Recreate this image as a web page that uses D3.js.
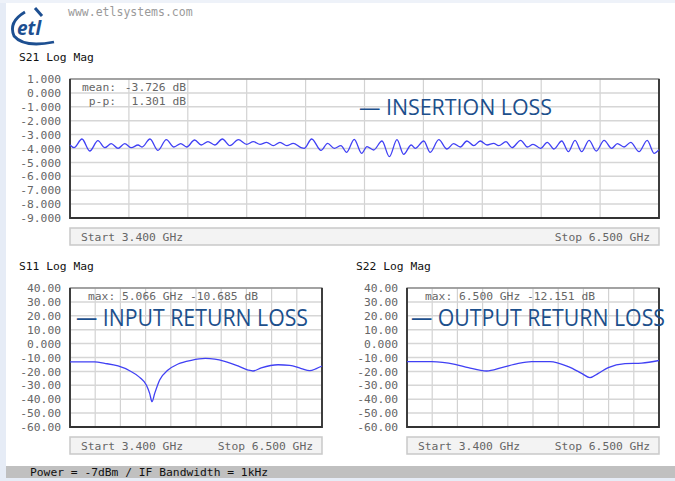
<!DOCTYPE html>
<html><head><meta charset="utf-8">
<script src="https://cdn.jsdelivr.net/npm/d3@7"></script>
<style>
html,body{margin:0;padding:0;background:#fff;}
svg{display:block;}
.mono{font-family:"DejaVu Sans Mono",monospace;}
</style></head>
<body>
<svg id="c" width="675" height="481"></svg>
<script>
// ---------- DATA ----------
const freqStart = 3.4, freqStop = 6.5;
// S21 insertion loss (GHz, dB)
const s21Freq = [3.400,3.421,3.463,3.504,3.547,3.583,3.617,3.653,3.688,3.723,3.758,3.779,3.821,3.863,3.907,3.947,3.983,4.014,4.056,4.091,4.126,4.162,
  4.202,4.242,4.286,4.330,4.365,4.400,4.435,4.470,4.505,4.541,4.575,4.616,4.633,4.672,4.721,4.756,4.791,4.826,4.856,4.896,4.935,
  4.963,4.998,5.042,5.081,5.121,5.156,5.196,5.217,5.262,5.296,5.341,5.384,5.419,5.454,5.489,5.525,5.559,5.595,5.630,5.656,5.695,5.726,
  5.772,5.807,5.837,5.877,5.912,5.947,5.988,6.023,6.058,6.093,6.132,6.170,6.211,6.251,6.281,6.316,6.351,6.395,6.438,6.474,6.500];
const s21dB = [-3.748,-3.940,-3.316,-4.180,-3.436,-3.940,-3.652,-3.988,-3.652,-3.940,-3.748,-3.892,-3.316,-4.132,-3.364,-3.892,-3.652,-3.892,-3.388,-3.748,-3.508,-3.748,
  -3.316,-3.796,-3.364,-3.700,-3.508,-3.700,-3.556,-3.796,-3.556,-3.796,-3.628,-3.940,-3.988,-3.316,-4.132,-3.628,-3.988,-3.796,-4.276,-3.340,-4.347,
  -3.868,-4.108,-3.460,-4.587,-3.364,-4.419,-3.748,-3.988,-3.460,-4.276,-3.364,-4.036,-3.652,-3.892,-3.460,-3.796,-3.460,-3.748,-3.628,-3.796,-3.508,-3.940,
  -3.412,-3.892,-3.700,-3.988,-3.556,-4.036,-3.460,-4.228,-3.412,-4.228,-3.412,-4.180,-3.412,-3.988,-3.652,-3.892,-3.556,-4.228,-3.412,-4.347,-4.080];
// S11 input return loss
const s11Freq = [3.400,3.704,3.827,3.991,4.134,4.257,4.339,4.380,4.409,4.442,4.503,4.606,4.729,4.892,5.066,5.180,5.303,5.467,5.590,5.651,5.753,5.959,6.103,6.245,6.349,6.430,6.500];
const s11dB = [-13.2,-13.2,-14.2,-16.1,-19.5,-24.3,-29.8,-35.8,-41.8,-35.8,-26.2,-19.0,-14.7,-12.0,-10.7,-11.2,-12.8,-16.1,-19.0,-19.7,-17.5,-15.2,-15.6,-18.0,-19.5,-18.0,-16.1];
// S22 output return loss
const s22Freq = [3.400,3.704,3.990,4.154,4.380,4.565,4.769,4.934,5.159,5.384,5.549,5.651,5.753,5.876,6.082,6.287,6.500];
const s22dB = [-13.0,-13.0,-14.9,-17.3,-19.7,-17.3,-14.2,-13.0,-13.0,-16.6,-21.4,-24.5,-21.4,-17.3,-14.4,-14.0,-12.15];

const s21Ticks = [1,0,-1,-2,-3,-4,-5,-6,-7,-8,-9];
const s21TickLabels = ["1.000","0.000","-1.000","-2.000","-3.000","-4.000","-5.000","-6.000","-7.000","-8.000","-9.000"];
const rlTicks = [40,30,20,10,0,-10,-20,-30,-40,-50,-60];
const rlTickLabels = ["40.00","30.00","20.00","10.00","0.000","-10.00","-20.00","-30.00","-40.00","-50.00","-60.00"];

const titles = ["S21 Log Mag","S11 Log Mag","S22 Log Mag"];
const s21Stats = [["mean:","-3.726 dB"],["p-p:","1.301 dB"]];
const s11Marker = "max: 5.066 GHz -10.685 dB";
const s22Marker = "max: 6.500 GHz -12.151 dB";
const bigLabels = ["— INSERTION LOSS","— INPUT RETURN LOSS","— OUTPUT RETURN LOSS"];
const startLabel = "Start 3.400 GHz", stopLabel = "Stop 6.500 GHz";
const footerText = "Power = -7dBm / IF Bandwidth = 1kHz";
const siteText = "www.etlsystems.com";

// ---------- DRAW ----------
const svg = d3.select("#c");
const FS = "11.3px";
// page background strips
svg.append("rect").attr("x",0).attr("y",0).attr("width",6).attr("height",481).attr("fill","#e6ecf6");
svg.append("rect").attr("x",0).attr("y",0).attr("width",675).attr("height",3).attr("fill","#eef2f9");
svg.append("rect").attr("x",0).attr("y",478).attr("width",675).attr("height",3).attr("fill","#e6ecf6");
svg.append("rect").attr("x",6).attr("y",466).attr("width",669).attr("height",12).attr("fill","#c0c0c0");
svg.append("text").attr("class","mono").attr("x",30).attr("y",476).attr("font-size",FS).attr("fill","#111").text(footerText);

// logo
const logo = svg.append("g");
logo.append("path").attr("d","M25 12 Q8 22 14 36 Q24 48 54 42").attr("fill","none").attr("stroke","#1d4f91").attr("stroke-width",2.8);
logo.append("path").attr("d","M35 8 L42 16").attr("stroke","#1d4f91").attr("stroke-width",3);
logo.append("text").attr("x",17).attr("y",35).attr("font-family","Open Sans, sans-serif").attr("font-weight","bold").attr("font-style","italic")
  .attr("font-size","19px").attr("fill","#1d4f91").text("etl");
svg.append("text").attr("class","mono").attr("x",68).attr("y",16).attr("font-size","11.5px").attr("fill","#9a9a9a").text(siteText);

function panel(opt){
  const g = svg.append("g");
  const x = d3.scaleLinear().domain([freqStart,freqStop]).range([opt.x0,opt.x1]);
  const y = d3.scaleLinear().domain([opt.ticks[opt.ticks.length-1],opt.ticks[0]]).range([opt.y1,opt.y0]);
  g.append("text").attr("class","mono").attr("x",opt.tx).attr("y",opt.y0-18).attr("font-size",FS).attr("fill","#111").text(opt.title);
  const vgrid = d3.range(11).map(i=>freqStart+i*(freqStop-freqStart)/10);
  g.selectAll(".vg").data(vgrid).join("line").attr("x1",d=>x(d)).attr("x2",d=>x(d)).attr("y1",opt.y0).attr("y2",opt.y1)
    .attr("stroke","#d2d2d2").attr("stroke-width",1.2);
  g.selectAll(".hg").data(opt.ticks).join("line").attr("x1",opt.x0).attr("x2",opt.x1).attr("y1",d=>y(d)).attr("y2",d=>y(d))
    .attr("stroke","#d6d6d6").attr("stroke-width",1.5);
  const ax = d3.axisLeft(y).tickValues(opt.ticks).tickSize(0).tickPadding(0)
    .tickFormat((d,i)=>opt.labels[i]);
  const ag = g.append("g").attr("transform",`translate(${opt.lx},0)`).call(ax);
  ag.select(".domain").remove();
  ag.selectAll("text").attr("class","mono").attr("font-family","DejaVu Sans Mono, monospace").attr("font-size",FS).attr("fill","#666");
  g.append("rect").attr("x",opt.x0).attr("y",opt.y0).attr("width",opt.x1-opt.x0).attr("height",opt.y1-opt.y0)
    .attr("fill","none").attr("stroke","#7a7a7a").attr("stroke-width",1.2);
  g.append("path").attr("d",`M${opt.x0},${opt.y0} V${opt.y1} H${opt.x1} V${opt.y0}`).attr("fill","none").attr("stroke","#333").attr("stroke-width",1.8);
  const pts = opt.f.map((f,i)=>[f,opt.v[i]]);
  const line = d3.line().x(d=>x(d[0])).y(d=>y(d[1])).curve(d3.curveMonotoneX);
  g.append("path").datum(pts).attr("d",line).attr("fill","none").attr("stroke","#4040f4").attr("stroke-width",1.3);
  g.append("rect").attr("x",opt.x0).attr("y",opt.y1+10).attr("width",opt.x1-opt.x0).attr("height",17)
    .attr("fill","#f3f3f3").attr("stroke","#c9c9c9").attr("stroke-width",1.5);
  g.append("text").attr("class","mono").attr("x",opt.x0+11).attr("y",opt.y1+22.5).attr("font-size",FS).attr("fill","#666").text(startLabel);
  g.append("text").attr("class","mono").attr("x",opt.x1-9).attr("y",opt.y1+22.5).attr("text-anchor","end").attr("font-size",FS).attr("fill","#666").text(stopLabel);
  g.append("text").attr("x",opt.bx).attr("y",opt.by).attr("font-family","Open Sans, sans-serif").attr("font-size",opt.bs+"px")
    .attr("fill","#1c4f8c").attr("textLength",opt.bw).attr("lengthAdjust","spacingAndGlyphs").text(opt.big);
  return {g,x,y};
}

const p1 = panel({x0:70,x1:659,y0:79,y1:218,tx:19,lx:61,ticks:s21Ticks,labels:s21TickLabels,f:s21Freq,v:s21dB,title:titles[0],
  big:bigLabels[0],bx:359,by:115,bs:22,bw:193});
s21Stats.forEach((r,i)=>{
  p1.g.append("text").attr("class","mono").attr("x",116).attr("y",90.5+i*14.3).attr("text-anchor","end").attr("font-size",FS).attr("fill","#666").text(r[0]);
  p1.g.append("text").attr("class","mono").attr("x",186).attr("y",90.5+i*14.3).attr("text-anchor","end").attr("font-size",FS).attr("fill","#666").text(r[1]);
});
const p2 = panel({x0:70,x1:322,y0:288,y1:427,tx:19,lx:61,ticks:rlTicks,labels:rlTickLabels,f:s11Freq,v:s11dB,title:titles[1],
  big:bigLabels[1],bx:76,by:326,bs:24,bw:232});
p2.g.append("text").attr("class","mono").attr("x",88).attr("y",300).attr("font-size",FS).attr("fill","#666").text(s11Marker);
const p3 = panel({x0:407,x1:659,y0:288,y1:427,tx:356,lx:398,ticks:rlTicks,labels:rlTickLabels,f:s22Freq,v:s22dB,title:titles[2],
  big:bigLabels[2],bx:411,by:326,bs:24,bw:254});
p3.g.append("text").attr("class","mono").attr("x",425).attr("y",300).attr("font-size",FS).attr("fill","#666").text(s22Marker);
</script>
</body></html>
